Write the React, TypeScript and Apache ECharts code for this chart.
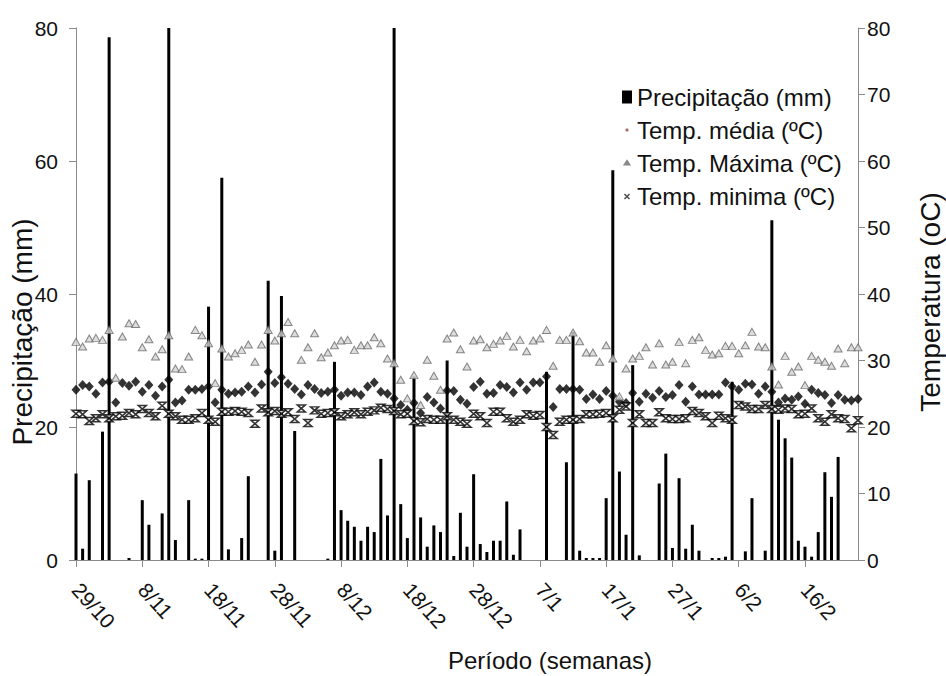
import React, { useEffect, useRef } from "react";
import * as echarts from "echarts";

// ---------- data ----------
const START_DAY = 29;
const MONTHS = [10, 11, 12, 1, 2];
const MONTH_LENGTH: Record<number, number> = { 10: 31, 11: 30, 12: 31, 1: 31, 2: 28 };
const DAY_COUNT = 119;

function buildCategories(): string[] {
  const out: string[] = [];
  let m = 0;
  let d = START_DAY;
  for (let i = 0; i < DAY_COUNT; i++) {
    out.push(`${d}/${MONTHS[m]}`);
    d++;
    if (d > MONTH_LENGTH[MONTHS[m]]) {
      d = 1;
      m++;
    }
  }
  return out;
}
const categories = buildCategories();

const precipitation = [
  13.0, 1.7, 12.0, 0, 19.3, 78.6, 0, 0, 0.3, 0,
  9.0, 5.3, 0, 7.0, 80, 3.0, 0, 9.0, 0.2, 0.2,
  38.1, 0, 57.5, 1.6, 0, 3.3, 12.6, 0, 0, 42.0,
  1.4, 39.7, 0, 19.4, 0, 0, 0, 0, 0.2, 29.8,
  7.5, 5.9, 5.0, 2.9, 5.0, 4.2, 15.2, 6.7, 80, 8.4,
  3.3, 27.6, 6.4, 2.0, 5.2, 4.2, 30.0, 0.6, 7.1, 2.0,
  12.9, 2.4, 1.2, 2.9, 2.9, 8.8, 0.8, 4.6, 0, 0,
  0, 28.3, 0, 0, 14.7, 34.3, 1.4, 0.3, 0.3, 0.3,
  9.3, 58.6, 13.3, 3.8, 29.3, 0.7, 0, 0, 11.5, 16.0,
  1.8, 12.3, 1.7, 5.3, 1.4, 0, 0.3, 0.3, 0.5, 26.8,
  0, 1.3, 9.3, 0, 1.4, 51.1, 21.1, 18.3, 15.4, 2.9,
  2.0, 0.5, 4.2, 13.2, 9.5, 15.5, 0, 0, 0,
];

const tempMean = [
  25.6, 26.3, 26.1, 25.0, 26.7, 26.8, 23.7, 26.6, 26.2, 26.8,
  25.3, 26.3, 24.7, 26.1, 27.1, 23.7, 24.0, 25.6, 25.6, 25.7,
  26.1, 23.7, 25.6, 25.0, 25.2, 25.3, 26.1, 25.2, 26.4, 28.3,
  26.6, 27.5, 26.5, 25.7, 24.9, 26.3, 25.7, 25.1, 25.3, 25.6,
  24.7, 25.2, 25.2, 24.8, 26.1, 26.7, 25.3, 25.0, 24.3, 23.3,
  22.6, 23.6, 22.1, 24.5, 23.7, 22.8, 25.5, 25.4, 24.1, 23.5,
  26.0, 26.8, 25.0, 25.1, 26.3, 26.0, 25.2, 26.7, 25.6, 26.7,
  26.7, 27.6, 23.0, 25.7, 25.7, 25.7, 25.6, 24.2, 24.9, 24.2,
  25.4, 24.7, 23.8, 23.6, 25.1, 23.8, 25.0, 24.4, 25.4, 24.5,
  24.8, 26.3, 23.8, 26.1, 24.9, 24.9, 24.9, 24.9, 26.7, 26.1,
  25.6, 26.5, 26.4, 25.0, 26.1, 25.3, 23.7, 24.3, 24.1, 24.6,
  23.5, 25.6, 25.1, 24.8, 23.6, 24.8, 24.1, 24.0, 24.2,
];

const tempMax = [
  32.8, 32.1, 33.3, 33.4, 33.1, 34.6, 27.4, 33.6, 35.6, 35.5,
  32.0, 33.2, 30.6, 31.7, 33.8, 28.8, 28.7, 30.6, 34.6, 33.8,
  32.6, 26.6, 31.8, 30.6, 31.1, 31.6, 32.4, 29.8, 32.4, 34.6,
  33.0, 34.1, 35.8, 34.1, 30.1, 32.0, 34.1, 30.5, 31.2, 32.3,
  33.0, 33.1, 31.6, 32.3, 32.3, 33.5, 32.6, 30.3, 29.6, 27.1,
  24.3, 27.8, 23.3, 30.1, 27.7, 25.6, 33.3, 34.2, 31.7, 29.1,
  33.0, 33.2, 32.0, 32.5, 33.0, 33.7, 32.1, 33.1, 31.4, 33.0,
  33.3, 34.6, 29.2, 33.1, 33.1, 34.2, 32.9, 31.2, 31.2, 29.8,
  32.3, 30.3, 24.6, 28.8, 30.3, 30.7, 32.0, 29.4, 32.6, 29.4,
  29.8, 32.8, 29.6, 33.1, 33.5, 31.6, 30.9, 31.1, 32.2, 32.2,
  31.1, 32.3, 34.3, 32.1, 32.0, 29.1, 26.4, 30.7, 28.3, 29.1,
  26.3, 30.7, 30.1, 29.8, 29.2, 31.8, 29.6, 32.0, 32.0,
];

const tempMin = [
  22.0, 21.9, 20.9, 21.3, 21.9, 21.3, 21.6, 21.7, 22.1, 21.9,
  22.7, 22.1, 21.6, 23.2, 22.0, 21.6, 21.1, 21.1, 21.3, 22.1,
  21.1, 20.8, 22.3, 22.3, 22.4, 22.3, 22.1, 20.5, 22.8, 22.2,
  22.4, 22.0, 22.2, 21.2, 22.8, 20.6, 22.5, 22.0, 22.1, 22.2,
  21.6, 21.9, 22.2, 21.9, 22.3, 22.5, 22.9, 22.7, 22.4, 21.9,
  22.0, 20.9, 20.7, 21.2, 21.1, 21.1, 21.6, 21.1, 20.8, 20.5,
  22.0, 21.6, 20.6, 22.3, 22.3, 21.3, 20.8, 21.1, 21.9, 21.7,
  21.8, 20.0, 18.8, 20.8, 21.1, 21.1, 21.2, 21.9, 21.9, 22.0,
  22.1, 21.3, 22.6, 23.1, 20.6, 21.9, 20.6, 20.6, 22.2, 21.3,
  21.2, 21.2, 21.3, 22.4, 22.1, 21.6, 20.6, 21.7, 21.3, 21.1,
  23.3, 23.1, 22.7, 22.7, 23.3, 22.7, 22.6, 22.8, 22.7, 21.9,
  22.0, 22.8, 21.3, 20.8, 21.9, 21.3, 21.2, 19.8, 21.0,
];

const leftTicks = { min: 0, max: 80, interval: 20 };
const rightTicks = { min: 0, max: 80, interval: 10 };

const SERIES_NAMES = [
  "Precipitação (mm)",
  "Temp. média (ºC)",
  "Temp. Máxima (ºC)",
  "Temp. minima (ºC)",
];

// ---------- styles ----------
const FONT = "'Liberation Sans', Arial, Helvetica, sans-serif";
const TEXT = "#111";
const AXIS = "#8a8a8a";
const HOURGLASS = "path://M0,0L10,0L0,10L10,10Z";

export default function App() {
  const ref = useRef<HTMLDivElement>(null);

  useEffect(() => {
    if (!ref.current) return;
    const chart = echarts.init(ref.current, null, { renderer: "svg" });

    const axisLine = { show: true, lineStyle: { color: AXIS, width: 1 } };
    const axisTick = { show: true, inside: false, length: 7, lineStyle: { color: AXIS } };

    chart.setOption({
      animation: false,
      backgroundColor: "#fff",
      textStyle: { fontFamily: FONT },
      grid: {
        left: 76,
        right: 88,
        top: 28,
        bottom: 116,
        containLabel: false,
        outerBoundsMode: "none",
      },
      legend: {
        orient: "vertical",
        left: 616,
        top: 80,
        itemWidth: 10,
        itemHeight: 13,
        itemGap: 9,
        textStyle: { fontFamily: FONT, fontSize: 24, color: TEXT, lineHeight: 24 },
        data: [
          { name: SERIES_NAMES[0], icon: "rect" },
          {
            name: SERIES_NAMES[1],
            icon: "path://M0,0M20,26M10,9L14,13L10,17L6,13Z",
            itemStyle: { color: "#9b4a3c", borderWidth: 0 },
          },
          {
            name: SERIES_NAMES[2],
            icon: "path://M0,0M20,26M10,9L14.5,16L5.5,16Z",
          },
          {
            name: SERIES_NAMES[3],
            icon: "path://M0,0M20,26M5,9L15,19M15,9L5,19",
            itemStyle: { color: "rgba(0,0,0,0)", borderColor: "#222", borderWidth: 1.5 },
          },
        ],
      },
      xAxis: {
        type: "category",
        data: categories,
        boundaryGap: false,
        axisLine,
        axisTick: { ...axisTick, interval: 9 },
        splitLine: { show: false },
        axisLabel: {
          interval: 9,
          rotate: -48,
          margin: 26,
          fontSize: 21,
          color: TEXT,
          fontFamily: FONT,
        },
        name: "Período (semanas)",
        nameLocation: "middle",
        nameGap: 88,
        nameMoveOverlap: false,
        nameTextStyle: { fontSize: 24, color: TEXT, fontFamily: FONT, padding: [0, 0, 0, 166] },
      },
      yAxis: [
        {
          type: "value",
          position: "left",
          ...leftTicks,
          axisLine,
          axisTick,
          splitLine: { show: false },
          axisLabel: { fontSize: 21, color: TEXT, margin: 18, fontFamily: FONT },
          name: "Precipitação (mm)",
          nameLocation: "middle",
          nameRotate: 90,
          nameGap: 40,
          nameMoveOverlap: false,
          nameTextStyle: { fontSize: 28, color: TEXT, fontFamily: FONT, padding: [0, 76, 0, 0] },
        },
        {
          type: "value",
          position: "right",
          ...rightTicks,
          axisLine,
          axisTick,
          splitLine: { show: false },
          axisLabel: { fontSize: 21, color: TEXT, margin: 9, fontFamily: FONT },
          name: "Temperatura (oC)",
          nameLocation: "middle",
          nameRotate: 90,
          nameGap: 58,
          nameMoveOverlap: false,
          nameTextStyle: { fontSize: 28, color: TEXT, fontFamily: FONT, padding: [0, 16, 0, 0] },
        },
      ],
      series: [
        {
          name: SERIES_NAMES[0],
          type: "bar",
          yAxisIndex: 0,
          data: precipitation,
          barWidth: 3,
          clip: false,
          itemStyle: { color: "#000" },
        },
        {
          name: SERIES_NAMES[1],
          type: "scatter",
          yAxisIndex: 1,
          data: tempMean,
          symbol: "diamond",
          symbolSize: [9, 10],
          itemStyle: { color: "#000" },
        },
        {
          name: SERIES_NAMES[2],
          type: "scatter",
          yAxisIndex: 1,
          data: tempMax,
          symbol: "triangle",
          symbolSize: [8, 7],
          itemStyle: { color: "#d4d4d4", borderColor: "#6a6a6a", borderWidth: 1 },
        },
        {
          name: SERIES_NAMES[3],
          type: "scatter",
          yAxisIndex: 1,
          data: tempMin,
          symbol: HOURGLASS,
          symbolSize: [8, 7],
          itemStyle: { color: "#fff", borderColor: "#000", borderWidth: 1.6 },
        },
      ],
    });

    return () => chart.dispose();
  }, []);

  return <div ref={ref} style={{ width: 946, height: 676, position: "absolute", left: 0, top: 0 }} />;
}
